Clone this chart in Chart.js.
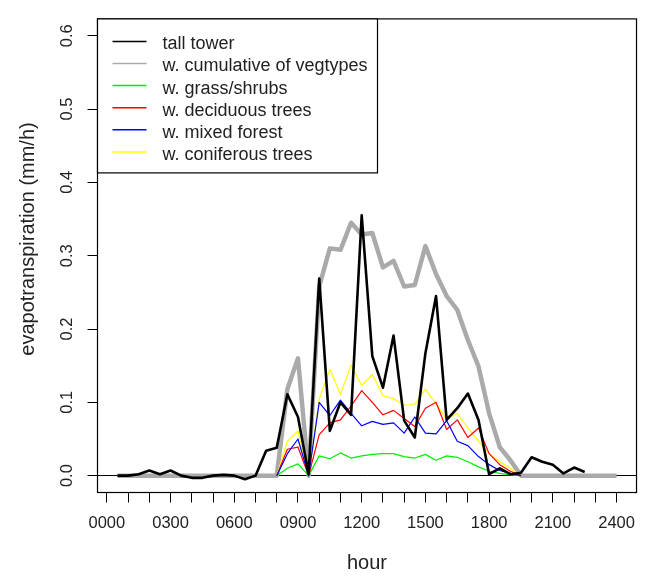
<!DOCTYPE html>
<html>
<head>
<meta charset="utf-8">
<script src="https://cdn.jsdelivr.net/npm/chart.js@4.4.1/dist/chart.umd.min.js"></script>
<style>
html,body{margin:0;padding:0;background:#fff;}
canvas{display:block;}
</style>
</head>
<body>
<canvas id="c" width="646" height="576"></canvas>
<script>
// ---- data (half-hourly, hour of day) ----
const hours = [0.5,1,1.5,2,2.5,3,3.5,4,4.5,5,5.5,6,6.5,7,7.5,8,8.5,9,9.5,10,10.5,11,11.5,12,
               12.5,13,13.5,14,14.5,15,15.5,16,16.5,17,17.5,18,18.5,19,19.5,20,20.5,21,21.5,22,22.5,23,23.5,24];

const tallTower = [0,0,0.002,0.007,0.002,0.007,0,-0.003,-0.003,0,0.001,0,-0.005,0,0.034,0.038,
                   0.111,0.080,0.002,0.269,0.061,0.100,0.083,0.355,0.163,0.120,0.191,0.075,0.052,0.167,0.245,0.076,
                   0.092,0.112,0.076,0.002,0.010,0.002,0.004,0.025,0.019,0.015,0.003,0.011,0.005,null,null,null];

const cumulative = [0,0,0,0,0,0,0,0,0,0,0,0,0,0,0,0,
                    0.118,0.160,0.000,0.258,0.310,0.308,0.345,0.329,0.331,0.284,0.293,0.258,0.260,0.313,0.275,0.245,
                    0.226,0.185,0.149,0.085,0.039,0.021,0,0,0,0,0,0,0,0,0,0];

const grass = [null,null,null,null,null,null,null,null,null,null,null,null,null,null,null,0,
               0.010,0.016,0,0.027,0.023,0.031,0.024,0.027,0.029,0.030,0.030,0.026,0.024,0.029,0.021,0.027,
               0.025,0.019,0.012,0.006,0.003,0.001,0,null,null,null,null,null,null,null,null,null];

const deciduous = [null,null,null,null,null,null,null,null,null,null,null,null,null,null,null,0,
                   0.036,0.039,0,0.056,0.072,0.076,0.095,0.116,0.100,0.083,0.089,0.078,0.067,0.092,0.100,0.063,
                   0.076,0.052,0.065,0.030,0.015,0.006,0,null,null,null,null,null,null,null,null,null];

const mixedForest = [null,null,null,null,null,null,null,null,null,null,null,null,null,null,null,0,
                     0.030,0.050,0,0.100,0.082,0.103,0.085,0.068,0.074,0.070,0.072,0.058,0.080,0.058,0.057,0.075,
                     0.047,0.041,0.026,0.015,0.007,0.003,0,null,null,null,null,null,null,null,null,null];

const coniferous = [null,null,null,null,null,null,null,null,null,null,null,null,null,null,null,0,
                    0.047,0.061,0,0.105,0.145,0.111,0.151,0.123,0.138,0.109,0.105,0.096,0.097,0.118,0.098,0.077,
                    0.085,0.065,0.047,0.030,0.019,0.010,0,null,null,null,null,null,null,null,null,null];

const seriesNames = ['tall tower','w. cumulative of vegtypes','w. grass/shrubs','w. deciduous trees','w. mixed forest','w. coniferous trees'];

const xTickHours = [0,1,2,3,4,5,6,7,8,9,10,11,12,13,14,15,16,17,18,19,20,21,22,23,24];
const xLabelHours = [0,3,6,9,12,15,18,21,24];
const xTickLabels = ['0000','0300','0600','0900','1200','1500','1800','2100','2400'];
const yTicks = [0,0.1,0.2,0.3,0.4,0.5,0.6];
const yTickLabels = ['0.0','0.1','0.2','0.3','0.4','0.5','0.6'];

const FONT = "'Liberation Sans', Arial, sans-serif";
const pts = arr => hours.map((h,i)=>({x:h, y:arr[i]}));

const frame = {
  id:'frame',
  afterDatasetsDraw(chart){
    const {ctx, chartArea:a} = chart;
    ctx.save();
    ctx.strokeStyle = '#000';
    ctx.lineWidth = 1.2;
    ctx.strokeRect(a.left, a.top, a.right-a.left, a.bottom-a.top);
    ctx.restore();
  }
};

const yTitle = {
  id:'yTitle',
  afterDraw(chart){
    const ctx = chart.ctx;
    ctx.save();
    ctx.translate(28.5, 239);
    ctx.rotate(-Math.PI/2);
    ctx.font = "20px " + FONT;
    ctx.fillStyle = '#222';
    ctx.textAlign = 'center';
    ctx.textBaseline = 'middle';
    ctx.fillText('evapotranspiration (mm/h)', 0, 0);
    ctx.restore();
  }
};

const legendBox = {
  id:'legendBox',
  afterDraw(chart){
    const {ctx, chartArea:a} = chart;
    const x0 = a.left, y0 = a.top, w = 280, h = 154;
    ctx.save();
    ctx.fillStyle = '#fff';
    ctx.fillRect(x0, y0, w, h);
    ctx.strokeStyle = '#000';
    ctx.lineWidth = 1.2;
    ctx.strokeRect(x0, y0, w, h);
    ctx.font = "18px " + FONT;
    ctx.textBaseline = 'middle';
    ctx.textAlign = 'left';
    chart.data.datasets.forEach((ds,k)=>{
      const y = y0 + 22.5 + k*22.1;
      ctx.strokeStyle = ds.borderColor;
      ctx.lineWidth = 1.5;
      ctx.beginPath();
      ctx.moveTo(x0+15, y);
      ctx.lineTo(x0+49, y);
      ctx.stroke();
      ctx.fillStyle = '#222';
      ctx.fillText(ds.label, x0+65, y+3);
    });
    ctx.restore();
  }
};

new Chart(document.getElementById('c'), {
  type:'line',
  data:{
    datasets:[
      {label:seriesNames[0], data:pts(tallTower), borderColor:'#000000', borderWidth:2.6, order:0},
      {label:seriesNames[1], data:pts(cumulative), borderColor:'#aaaaaa', borderWidth:4.5, order:10},
      {label:seriesNames[2], data:pts(grass), borderColor:'#00ee00', borderWidth:1.2, order:5},
      {label:seriesNames[3], data:pts(deciduous), borderColor:'#ff0000', borderWidth:1.2, order:4},
      {label:seriesNames[4], data:pts(mixedForest), borderColor:'#0000ff', borderWidth:1.2, order:3},
      {label:seriesNames[5], data:pts(coniferous), borderColor:'#ffff00', borderWidth:1.2, order:6}
    ]
  },
  options:{
    responsive:false,
    animation:false,
    devicePixelRatio:1,
    spanGaps:false,
    elements:{point:{radius:0}, line:{tension:0, borderJoinStyle:'round', borderCapStyle:'butt'}},
    layout:{padding:{left:0, top:7, right:2.5, bottom:0}},
    plugins:{legend:{display:false}, tooltip:{enabled:false}, title:{display:false}},
    scales:{
      x:{
        type:'linear', position:'bottom', min:-0.44, max:24.94,
        afterBuildTicks(s){ s.ticks = xTickHours.map(v=>({value:v})); },
        afterFit(s){ s.height = 83.5; },
        grid:{drawOnChartArea:false, drawTicks:true, tickLength:10, color:'#000', tickColor:'#000', lineWidth:1},
        border:{display:false},
        ticks:{
          autoSkip:false, maxRotation:0, minRotation:0, padding:11,
          font:{family:FONT, size:16.5}, color:'#222',
          callback(v){ const i = xLabelHours.indexOf(v); return i>=0 ? xTickLabels[i] : ''; }
        },
        title:{display:true, text:'hour', font:{family:FONT, size:20}, color:'#222', padding:{top:0,bottom:1}}
      },
      y:{
        type:'linear', position:'left', min:-0.023, max:0.623,
        afterBuildTicks(s){ s.ticks = yTicks.map(v=>({value:v})); },
        afterFit(s){ s.width = 97.5; },
        grid:{drawOnChartArea:true, drawTicks:true, tickLength:10,
              color:c => (c.tick && c.tick.value === 0) ? '#000' : 'rgba(0,0,0,0)',
              tickColor:'#000', lineWidth:1},
        border:{display:false},
        ticks:{
          autoSkip:false, minRotation:90, maxRotation:90, crossAlign:'center', padding:9,
          font:{family:FONT, size:16.5}, color:'#222',
          callback(v){ const i = yTicks.indexOf(v); return i>=0 ? yTickLabels[i] : ''; }
        },
        title:{display:false}
      }
    }
  },
  plugins:[frame, legendBox, yTitle]
});
</script>
</body>
</html>
